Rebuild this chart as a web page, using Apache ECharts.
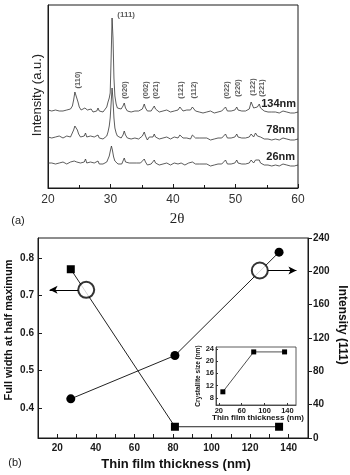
<!DOCTYPE html>
<html><head><meta charset="utf-8">
<script src="https://cdn.jsdelivr.net/npm/echarts@6/dist/echarts.min.js"></script>
<style>html,body{margin:0;padding:0;background:#fff}#c{width:350px;height:475px}</style>
</head><body><div id="c"></div>
<script>
// ---------- Panel (a): XRD patterns [2theta, intensity a.u.] ----------
const xrd134 = [[20.0,78],[20.3,80],[20.6,77],[20.9,79],[21.2,78],[21.5,80],[21.8,77],[22.1,78],[22.4,77],[22.7,79],[23.0,78],[23.3,77],[23.6,79],[23.9,82],[24.1,88],[24.3,96],[24.4,98],[24.6,94],[24.8,86],[25.0,81],[25.3,78],[25.6,77],[25.9,80],[26.1,82],[26.3,78],[26.6,77],[26.9,79],[27.2,76],[27.5,78],[27.8,77],[28.0,80],[28.2,77],[28.5,78],[28.8,76],[29.1,78],[29.4,81],[29.6,86],[29.8,90],[29.95,95],[30.1,130],[30.25,170],[30.4,150],[30.55,110],[30.7,92],[30.9,84],[31.1,80],[31.4,78],[31.7,79],[32.0,82],[32.2,85],[32.4,80],[32.7,77],[33.0,78],[33.3,76],[33.6,78],[33.9,77],[34.2,79],[34.5,77],[34.8,78],[35.1,79],[35.4,84],[35.6,80],[35.9,77],[36.2,79],[36.5,77],[36.8,79],[37.0,82],[37.2,79],[37.5,78],[37.8,76],[38.1,78],[38.4,77],[38.7,76],[39.0,78],[39.3,77],[39.6,76],[39.9,78],[40.2,77],[40.5,76],[40.8,78],[41.1,81],[41.3,80],[41.6,77],[41.9,76],[42.2,78],[42.5,77],[42.8,78],[43.1,81],[43.3,79],[43.6,77],[43.9,78],[44.2,76],[44.5,77],[44.8,75],[45.1,77],[45.4,76],[45.7,75],[46.0,77],[46.3,76],[46.6,75],[46.9,77],[47.2,76],[47.5,75],[47.8,77],[48.1,78],[48.4,81],[48.7,77],[49.0,76],[49.3,77],[49.6,76],[49.9,78],[50.2,81],[50.4,78],[50.7,76],[51.0,77],[51.3,76],[51.6,77],[51.9,76],[52.2,79],[52.5,86],[52.7,87],[52.9,80],[53.2,79],[53.5,81],[53.8,84],[54.0,80],[54.3,78],[54.6,77],[54.9,78],[55.2,76],[55.5,77],[55.8,76],[56.1,78],[56.4,76],[56.7,77],[57.0,75],[57.3,76],[57.6,77],[57.9,75],[58.2,76],[58.5,77],[58.8,75],[59.1,76],[59.4,75],[59.7,76],[60.0,76]];
const xrd78 = [[20.0,51],[20.3,53],[20.6,50],[20.9,52],[21.2,51],[21.5,50],[21.8,52],[22.1,51],[22.4,50],[22.7,51],[23.0,52],[23.3,50],[23.6,51],[23.9,53],[24.1,58],[24.3,62],[24.5,63],[24.7,58],[24.9,54],[25.2,51],[25.5,50],[25.8,52],[26.0,55],[26.2,51],[26.5,50],[26.8,52],[27.1,50],[27.4,51],[27.7,50],[28.0,53],[28.2,50],[28.5,51],[28.8,49],[29.1,51],[29.4,52],[29.6,56],[29.8,62],[29.95,70],[30.1,85],[30.25,100],[30.4,88],[30.55,70],[30.7,60],[30.9,55],[31.1,52],[31.4,51],[31.7,50],[32.0,53],[32.2,57],[32.4,53],[32.7,50],[33.0,51],[33.3,49],[33.6,51],[33.9,50],[34.2,51],[34.5,49],[34.8,51],[35.1,52],[35.4,56],[35.6,52],[35.9,48],[36.2,51],[36.5,50],[36.8,51],[37.0,54],[37.2,51],[37.5,50],[37.8,49],[38.1,51],[38.4,50],[38.7,49],[39.0,51],[39.3,50],[39.6,49],[39.9,50],[40.2,51],[40.5,49],[40.8,50],[41.1,53],[41.3,52],[41.6,50],[41.9,49],[42.2,50],[42.5,51],[42.8,49],[43.1,53],[43.3,51],[43.6,50],[43.9,49],[44.2,50],[44.5,49],[44.8,50],[45.1,48],[45.4,50],[45.7,49],[46.0,48],[46.3,50],[46.6,49],[46.9,48],[47.2,50],[47.5,49],[47.8,50],[48.1,51],[48.4,54],[48.7,50],[49.0,49],[49.3,50],[49.6,49],[49.9,51],[50.2,54],[50.4,51],[50.7,49],[51.0,50],[51.3,49],[51.6,50],[51.9,49],[52.2,51],[52.5,54],[52.7,53],[52.9,51],[53.2,55],[53.5,52],[53.8,54],[54.0,51],[54.3,50],[54.6,49],[54.9,50],[55.2,49],[55.5,50],[55.8,48],[56.1,50],[56.4,49],[56.7,50],[57.0,48],[57.3,49],[57.6,50],[57.9,48],[58.2,49],[58.5,50],[58.8,48],[59.1,49],[59.4,48],[59.7,49],[60.0,49]];
const xrd26 = [[20.0,25],[20.3,27],[20.6,25],[20.9,26],[21.2,24],[21.5,26],[21.8,25],[22.1,24],[22.4,26],[22.7,25],[23.0,24],[23.3,25],[23.6,26],[23.9,25],[24.2,27],[24.4,28],[24.6,26],[24.9,24],[25.2,25],[25.5,24],[25.8,26],[26.0,29],[26.2,25],[26.5,24],[26.8,26],[27.1,24],[27.4,25],[27.7,24],[28.0,27],[28.2,24],[28.5,25],[28.8,24],[29.1,25],[29.4,26],[29.6,28],[29.8,32],[30.0,38],[30.15,42],[30.3,38],[30.5,31],[30.7,27],[30.9,25],[31.2,24],[31.5,25],[31.8,24],[32.0,26],[32.2,30],[32.4,26],[32.7,24],[33.0,25],[33.3,23],[33.6,25],[33.9,24],[34.2,25],[34.5,23],[34.8,25],[35.1,25],[35.4,29],[35.6,26],[35.9,23],[36.2,25],[36.5,24],[36.8,25],[37.0,28],[37.2,25],[37.5,24],[37.8,23],[38.1,25],[38.4,24],[38.7,23],[39.0,25],[39.3,24],[39.6,23],[39.9,24],[40.2,25],[40.5,23],[40.8,24],[41.1,26],[41.3,25],[41.6,24],[41.9,23],[42.2,24],[42.5,25],[42.8,23],[43.1,26],[43.3,25],[43.6,24],[43.9,23],[44.2,24],[44.5,23],[44.8,24],[45.1,22],[45.4,24],[45.7,23],[46.0,22],[46.3,24],[46.6,23],[46.9,22],[47.2,24],[47.5,23],[47.8,24],[48.1,25],[48.4,28],[48.7,24],[49.0,23],[49.3,24],[49.6,23],[49.9,25],[50.2,28],[50.4,25],[50.7,23],[51.0,24],[51.3,23],[51.6,24],[51.9,23],[52.2,25],[52.5,28],[52.7,27],[52.9,25],[53.2,28],[53.5,26],[53.8,28],[54.0,25],[54.3,24],[54.6,23],[54.9,24],[55.2,23],[55.5,24],[55.8,22],[56.1,24],[56.4,23],[56.7,24],[57.0,22],[57.3,23],[57.6,24],[57.9,22],[58.2,23],[58.5,24],[58.8,22],[59.1,23],[59.4,22],[59.7,23],[60.0,23]];
const peakNames = ['(110)','(020)','(002)','(021)','(121)','(112)','(022)','(220)','(122)','(221)'];
const peakAngles = [24.8, 32.3, 35.6, 37.2, 41.2, 43.3, 48.6, 50.4, 52.8, 54.2];
const peakLabelLevel = [108, 98, 98, 98, 98, 98, 98, 100, 101, 100];
const mainPeakName = '(111)';

// ---------- Panel (b) ----------
const thickness = [27, 81, 135];
const fwhm = [0.77, 0.35, 0.35];
const intensity111 = [47, 99, 223];
const leftTicks = [0.4, 0.5, 0.6, 0.7, 0.8];
const xTicksB = [20, 40, 60, 80, 100, 120, 140];
// inset
const insetThickness = [27, 81, 135];
const crystalliteSize = [10, 23, 23];
const insetXTicks = [20, 60, 100, 140];
const insetYTicks = [8, 12, 16, 20, 24];

const chart = echarts.init(document.getElementById('c'), null, {renderer: 'canvas'});
const INK = '#1a1a1a';
const bold = {fontFamily: 'Liberation Sans, Arial, sans-serif', fontWeight: 'bold', color: INK};
const axLine = {show: true, lineStyle: {color: INK, width: 1}};

const option = {
  animation: false,
  backgroundColor: '#fff',
  grid: [
    {left: 48, top: 5, width: 250, height: 183, show: true, borderColor: INK, borderWidth: 1},
    {left: 38, top: 238, width: 270, height: 200, show: true, borderColor: INK, borderWidth: 1},
    {left: 216, top: 347, width: 80, height: 58, show: true, borderColor: '#333', borderWidth: 0.8, backgroundColor: '#fff'}
  ],
  xAxis: [
    {gridIndex: 0, type: 'value', min: 20, max: 60, interval: 10,
     axisLine: axLine, splitLine: {show: false},
     axisTick: {inside: true, length: 4, lineStyle: {color: INK}},
     minorTick: {show: true, splitNumber: 2, length: 3, lineStyle: {color: INK}},
     axisLabel: {margin: 6, fontSize: 12, color: '#333', fontFamily: 'Liberation Sans, Arial'}},
    {gridIndex: 1, type: 'value', min: 10, max: 150,
     axisLine: axLine, splitLine: {show: false},
     axisTick: {inside: true, length: 4, lineStyle: {color: INK}, customValues: [20,30,40,50,60,70,80,90,100,110,120,130,140]},
     axisLabel: Object.assign({margin: 5, fontSize: 10, customValues: xTicksB}, bold)},
    {gridIndex: 2, type: 'value', min: 15, max: 155,
     axisLine: {show: true, lineStyle: {color: '#333', width: 0.8}}, splitLine: {show: false},
     axisTick: {inside: true, length: 2, lineStyle: {color: '#333'}, customValues: insetXTicks},
     axisLabel: Object.assign({margin: 2, fontSize: 7.5, customValues: insetXTicks}, bold)}
  ],
  yAxis: [
    {gridIndex: 0, type: 'value', min: 0, max: 183,
     axisLine: axLine, splitLine: {show: false}, axisTick: {show: false}, axisLabel: {show: false}},
    {gridIndex: 1, type: 'value', min: 0.32, max: 0.8533, position: 'left',
     axisLine: axLine, splitLine: {show: false},
     axisTick: {inside: true, length: 4, lineStyle: {color: INK}, customValues: leftTicks},
     axisLabel: Object.assign({margin: 4, fontSize: 10, customValues: leftTicks,
       formatter: v => Number(v).toFixed(1)}, bold)},
    {gridIndex: 1, type: 'value', min: 0, max: 240, interval: 40, position: 'right',
     axisLine: axLine, splitLine: {show: false},
     axisTick: {inside: false, length: 4, lineStyle: {color: INK}},
     axisLabel: Object.assign({margin: 5, fontSize: 10}, bold)},
    {gridIndex: 2, type: 'value', min: 5.7, max: 24.6,
     axisLine: {show: true, lineStyle: {color: '#333', width: 0.8}}, splitLine: {show: false},
     axisTick: {inside: true, length: 2, lineStyle: {color: '#333'}, customValues: insetYTicks},
     axisLabel: Object.assign({margin: 2, fontSize: 7.5, customValues: insetYTicks}, bold)}
  ],
  series: [
    {type: 'line', xAxisIndex: 0, yAxisIndex: 0, data: xrd134, symbol: 'none', lineStyle: {color: '#333', width: 0.8}},
    {type: 'line', xAxisIndex: 0, yAxisIndex: 0, data: xrd78, symbol: 'none', lineStyle: {color: '#333', width: 0.8}},
    {type: 'line', xAxisIndex: 0, yAxisIndex: 0, data: xrd26, symbol: 'none', lineStyle: {color: '#333', width: 0.8}},
    {type: 'scatter', xAxisIndex: 0, yAxisIndex: 0, symbolSize: 0, silent: true,
     data: peakNames.map((n, i) => [peakAngles[i], peakLabelLevel[i], n]),
     label: {show: true, position: 'inside', rotate: 90, formatter: p => p.data[2],
       fontSize: 7.5, fontWeight: 'bold', color: '#333', fontFamily: 'Liberation Sans, Arial'}},
    {type: 'scatter', xAxisIndex: 0, yAxisIndex: 0, symbolSize: 0, silent: true,
     data: [[32.5, 173, mainPeakName]],
     label: {show: true, position: 'inside', formatter: p => p.data[2],
       fontSize: 8, fontWeight: 'bold', color: '#333', fontFamily: 'Liberation Sans, Arial'}},
    // panel b
    {type: 'line', xAxisIndex: 1, yAxisIndex: 1, data: thickness.map((t, i) => [t, fwhm[i]]),
     symbol: 'rect', symbolSize: 8, itemStyle: {color: '#000'}, lineStyle: {color: '#222', width: 1}},
    {type: 'line', xAxisIndex: 1, yAxisIndex: 2, data: thickness.map((t, i) => [t, intensity111[i]]),
     symbol: 'circle', symbolSize: 9, itemStyle: {color: '#000'}, lineStyle: {color: '#222', width: 1}},
    {type: 'scatter', xAxisIndex: 1, yAxisIndex: 1, data: [[35, 0.715]], symbol: 'emptyCircle', symbolSize: 16, z: 5,
     itemStyle: {color: '#000', borderColor: '#000', borderWidth: 1},
     markLine: {silent: true, symbol: ['none', 'arrow'], symbolSize: [6, 8], label: {show: false},
       lineStyle: {color: '#000', width: 1, type: 'solid'},
       data: [[{coord: [31, 0.715]}, {coord: [16, 0.715]}]]}},
    {type: 'scatter', xAxisIndex: 1, yAxisIndex: 2, data: [[125, 201]], symbol: 'emptyCircle', symbolSize: 16, z: 5,
     itemStyle: {color: '#000', borderColor: '#000', borderWidth: 1},
     markLine: {silent: true, symbol: ['none', 'arrow'], symbolSize: [6, 8], label: {show: false},
       lineStyle: {color: '#000', width: 1, type: 'solid'},
       data: [[{coord: [129.2, 201]}, {coord: [144, 201]}]]}},
    // inset
    {type: 'line', xAxisIndex: 2, yAxisIndex: 3, data: insetThickness.map((t, i) => [t, crystalliteSize[i]]),
     symbol: 'rect', symbolSize: 5, itemStyle: {color: '#000'}, lineStyle: {color: '#222', width: 0.8}}
  ],
  graphic: [
    {type: 'text', x: 37, y: 95, rotation: Math.PI / 2,
     style: {text: 'Intensity (a.u.)', font: '13px Liberation Sans, Arial', fill: '#222', align: 'center', verticalAlign: 'middle'}},
    {type: 'text', x: 177, y: 219,
     style: {text: '2θ', font: '15px Liberation Serif, Times New Roman', fill: '#222', align: 'center', verticalAlign: 'middle'}},
    {type: 'text', x: 18, y: 221,
     style: {text: '(a)', font: '11px Liberation Sans, Arial', fill: '#222', align: 'center', verticalAlign: 'middle'}},
    {type: 'text', x: 296, y: 104,
     style: {text: '134nm', font: 'bold 11px Liberation Sans, Arial', fill: '#222', align: 'right', verticalAlign: 'middle'}},
    {type: 'text', x: 295, y: 130,
     style: {text: '78nm', font: 'bold 11px Liberation Sans, Arial', fill: '#222', align: 'right', verticalAlign: 'middle'}},
    {type: 'text', x: 295, y: 157,
     style: {text: '26nm', font: 'bold 11px Liberation Sans, Arial', fill: '#222', align: 'right', verticalAlign: 'middle'}},
    {type: 'text', x: 15, y: 463,
     style: {text: '(b)', font: '11px Liberation Sans, Arial', fill: '#222', align: 'center', verticalAlign: 'middle'}},
    {type: 'text', x: 9, y: 330, rotation: Math.PI / 2,
     style: {text: 'Full width at half maximum', font: 'bold 11px Liberation Sans, Arial', fill: '#111', align: 'center', verticalAlign: 'middle'}},
    {type: 'text', x: 342, y: 325, rotation: -Math.PI / 2,
     style: {text: 'Intensity (111)', font: 'bold 12px Liberation Sans, Arial', fill: '#111', align: 'center', verticalAlign: 'middle'}},
    {type: 'text', x: 176, y: 464,
     style: {text: 'Thin film thickness (nm)', font: 'bold 13px Liberation Sans, Arial', fill: '#111', align: 'center', verticalAlign: 'middle'}},
    {type: 'text', x: 198, y: 376, rotation: Math.PI / 2,
     style: {text: 'Crystallite size (nm)', font: 'bold 6.5px Liberation Sans, Arial', fill: '#111', align: 'center', verticalAlign: 'middle'}},
    {type: 'text', x: 258, y: 418,
     style: {text: 'Thin film thickness (nm)', font: 'bold 8px Liberation Sans, Arial', fill: '#111', align: 'center', verticalAlign: 'middle'}}
  ]
};
chart.setOption(option);
</script></body></html>
